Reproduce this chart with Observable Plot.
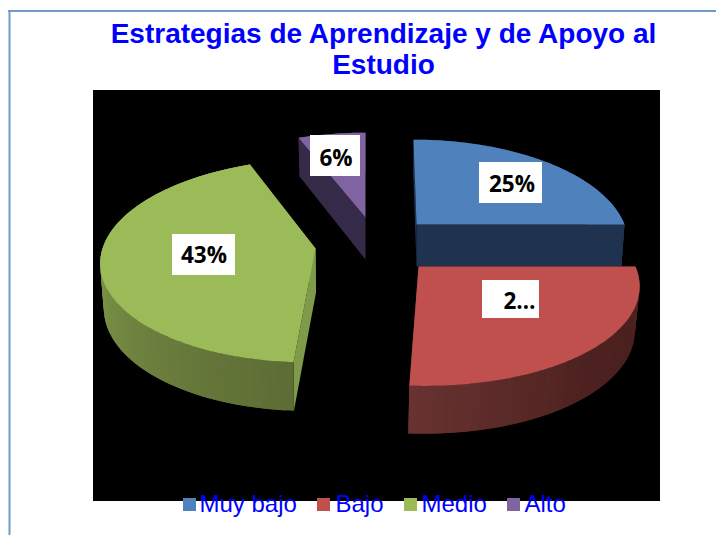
<!DOCTYPE html>
<html><head><meta charset="utf-8">
<script src="https://cdn.jsdelivr.net/npm/d3@7"></script>
<script src="https://cdn.jsdelivr.net/npm/@observablehq/plot@0.6"></script>
<style>html,body{margin:0;padding:0;background:#fff;overflow:hidden}svg{display:block;max-width:none!important}</style>
</head><body><div id="chart"></div>
<script>
const categories = ["Muy bajo","Bajo","Medio","Alto"];
const values = [25,26,43,6];
const sliceLabels = ["25%","2…","43%","6%"];
const titleLines = ["Estrategias de Aprendizaje y de Apoyo al","Estudio"];
const colors = ["#4f81bd","#c0504d","#9bbb59","#8064a2"];

// projection of every exploded slice: apex, radii, shear, perspective
const apexX = [416,418,315,365];
const apexY = [224,266,248,217];
const radX  = [208,217,213,210];
const radY  = [99,99.5,100.3,99];
const shear = [.035,.06,-.06,0];
const tilt  = [1/6,1/6,.12,1/6];
const depth = [42,43,44,42];
const depthX = [0,-1.5,.5,0];
const rimInFront = [false,true,true,false];

const wallStops = [
  ["#1f3350","#1f3350"],
  ["#4f2220","#4b201f","#4d211f","#5a2a28","#693331"],
  ["#5e6d35","#6c7f3e","#7d9547","#8ca551","#94ae56"],
  ["#352b48","#352b48"]
];
const radialWall = ["#1f3350","#4a1f1e","#7f9a48","#352b48"];

const TAU = Math.PI*2;
const cum = d3.cumsum(values), total = d3.sum(values);
const startA = i => (i?cum[i-1]:0)/total*TAU, endA = i => cum[i]/total*TAU;

function pt(i,a,low,r=1){
  const X = Math.sin(a)*r, Y = -Math.cos(a)*r, g = 1/(1-tilt[i]*Y);
  const dx = radX[i]*(low?.985:1)*X*g, dy = radY[i]*(low?1.04:1)*Y*g;
  return [apexX[i]+dx+shear[i]*dy+(low?depthX[i]:0), apexY[i]+dy+(low?depth[i]:0)];
}
const rows=[]; let pid=0;
function poly(points,c){const id=pid++;for(const p of points)rows.push({id,x:p[0],y:p[1],c});}
function arc(i,a0,a1,low){const n=Math.max(2,Math.ceil(Math.abs(a1-a0)/TAU*360));return d3.range(n+1).map(k=>pt(i,a0+(a1-a0)*k/n,low));}

for(const i of [0,3,2,1]){
  const a0=startA(i), a1=endA(i), c=radialWall[i], col=d3.piecewise(d3.interpolateRgb,wallStops[i]);
  const ctr=pt(i,0,false,0), ctrL=pt(i,0,true,0);
  const rim=()=>{
    // outer rim wall: strips run from the far end back, each overlapping the one painted before it
    const n=Math.ceil((a1-a0)/TAU*180);
    for(let k=n-1;k>=0;k--){
      const b0=a0+(a1-a0)*k/n, b1=a0+(a1-a0)*Math.min(n,k+2)/n;
      poly([pt(i,b0,false),pt(i,b1,false),pt(i,b1,true),pt(i,b0,true)],col(k/(n-1)));
    }
  };
  const faces=()=>{
    poly([ctr,pt(i,a0,false),pt(i,a0,true),ctrL],c);
    poly([ctr,pt(i,a1,false),pt(i,a1,true),ctrL],c);
  };
  if(rimInFront[i]){faces();rim();}else{rim();faces();}
  // top surface
  poly([ctr,...arc(i,a0,a1,false)],colors[i]);
}

const boxes = [[479,542,162,203],[482,539,280,318],[172,235,234,275],[310,360,135,176]];
const labelRows = categories.map((k,i)=>({k,t:sliceLabels[i],x1:boxes[i][0],x2:boxes[i][1],y1:boxes[i][2],y2:boxes[i][3]}));
const labelX = [511.5,519,203.5,335.5], labelY = [184.5,301,255.5,158];
const swatchX = [183,317,404,507], legendTextX = [199,335,421,524];

const plot = Plot.plot({
  width:716,height:535,margin:0,
  x:{domain:[0,716],range:[0,716],axis:null},
  y:{domain:[0,535],range:[0,535],axis:null},
  marks:[
    Plot.ruleX([9],{y1:10,y2:535,stroke:"#7099cc",strokeWidth:2}),
    Plot.ruleY([10.5],{x1:8,x2:716,stroke:"#7099cc",strokeWidth:2}),
    Plot.rect([0],{x1:93,x2:660,y1:90,y2:501,fill:"#000"}),
    Plot.line(rows,{x:"x",y:"y",z:"id",fill:"c",strokeWidth:0,curve:"linear-closed"}),
    Plot.rect(labelRows,{x1:"x1",x2:"x2",y1:"y1",y2:"y2",fill:"#fff"}),
    Plot.text(labelRows,{x:(d,i)=>labelX[i],y:(d,i)=>labelY[i],text:"t",fontFamily:"'Open Sans'",fontWeight:700,fontSize:22.5,fill:"#000"}),
    Plot.text(titleLines,{x:383,y:(d,i)=>[33.5,65][i],text:d=>d,fontFamily:"'Liberation Sans'",fontWeight:700,fontSize:28,fill:"#0000ff"}),
    Plot.rect(categories,{x1:(d,i)=>swatchX[i],x2:(d,i)=>swatchX[i]+13,y1:498,y2:511,fill:(d,i)=>colors[i]}),
    Plot.text(categories,{x:(d,i)=>legendTextX[i],y:504,text:d=>d,textAnchor:"start",fontFamily:"'Liberation Sans'",fontSize:24,fill:"#0000ff"})
  ]
});
document.getElementById("chart").append(plot);
</script></body></html>
